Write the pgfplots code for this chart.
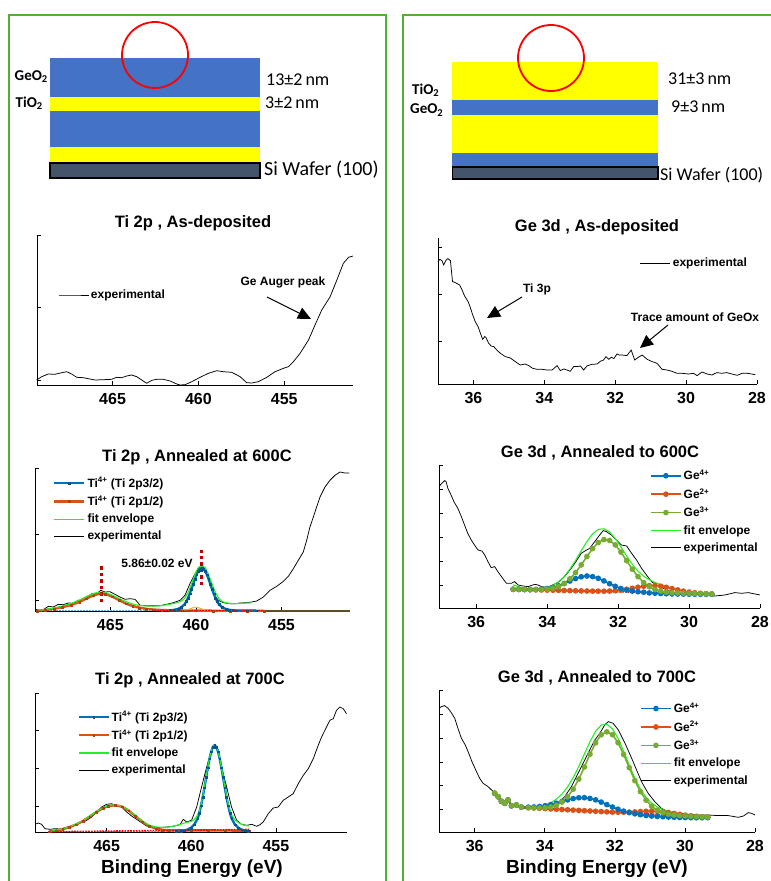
\documentclass[border=0pt]{standalone}
\usepackage{pgfplots}
\pgfplotsset{compat=1.18}
\usepackage{fontspec}
\setmainfont{Liberation Sans}
\newfontfamily\calib{Carlito}
\usetikzlibrary{arrows.meta}

\definecolor{mblue}{HTML}{0072BD}
\definecolor{morange}{HTML}{D95319}
\definecolor{myellow}{HTML}{EDB120}
\definecolor{mgreen}{HTML}{77AC30}
\definecolor{fitgreen}{HTML}{22F022}
\definecolor{framegreen}{RGB}{84,176,52}
\definecolor{layblue}{HTML}{4472C4}
\definecolor{layyellow}{HTML}{FFFF00}
\definecolor{siwafer}{HTML}{44546A}
\definecolor{markred}{HTML}{C00000}
\definecolor{basebrown}{RGB}{96,76,32}

\pgfplotsset{
  xps/.style={
    scale only axis,
    axis x line*=bottom,
    axis y line*=left,
    x dir=reverse,
    ymin=0,
    yticklabels={},
    tick align=inside,
    major tick length=4pt,
    every tick/.style={black, line width=0.7pt},
    axis line style={line width=0.8pt, black},
    xticklabel style={font=\bfseries\fontsize{16}{17}\selectfont, yshift=-4.5pt},
    /pgf/number format/assume math mode=true,
    clip=false,
    legend cell align=left,
    legend style={draw=none, fill=none, inner sep=0pt,
      font=\bfseries\fontsize{12}{13}\selectfont, row sep=3pt,
      /tikz/every even column/.append style={column sep=2pt}},
    legend image code/.code={\draw[mark repeat=2,mark phase=2,##1]
      plot coordinates {(0pt,0pt) (15pt,0pt) (30pt,0pt)};},
  },
  expline/.style={black, line width=0.75pt, mark=none},
  envline/.style={fitgreen, line width=1.1pt, mark=none},
  tiA/.style={mblue, line width=2.4pt, mark=square*, mark size=0.9pt,
    mark options={solid, line width=0.2pt, draw=mblue!75!black, fill=mblue!75!black}},
  tiB/.style={morange, line width=2.4pt, mark=square*, mark size=0.9pt,
    mark options={solid, line width=0.2pt, draw=morange!80!black, fill=morange!80!black}},
  geA/.style={mblue, line width=1.6pt, mark=*, mark size=2pt,
    mark options={solid, draw=mblue, fill=mblue}},
  geB/.style={morange, line width=1.6pt, mark=*, mark size=2pt,
    mark options={solid, draw=morange, fill=morange}},
  geC/.style={mgreen, line width=1.6pt, mark=*, mark size=2pt,
    mark options={solid, draw=mgreen, fill=mgreen}},
  bgline/.style={red, line width=1.6pt, dash pattern=on 1.6pt off 1.2pt, mark=none},
  lowline/.style={mblue!60, line width=1pt, dash pattern=on 1.5pt off 1.5pt, mark=none},
}

\begin{document}
\begin{tikzpicture}
\useasboundingbox (0pt,0pt) rectangle (771pt,-881pt);

\begin{scope}[x=1pt,y=-1pt]
  % panel frames
  \draw[framegreen, line width=2.4pt] (9,920) -- (9,15) -- (386,15) -- (386,920);
  \draw[framegreen, line width=2.4pt] (403,920) -- (403,15) -- (800,15);

  % stack: GeO2 on top
  \fill[layblue]   (50,58)  rectangle (260,97);
  \fill[layyellow] (50,97)  rectangle (260,111);
  \fill[layblue]   (50,111) rectangle (260,147);
  \fill[layyellow] (50,147) rectangle (260,162.5);
  \filldraw[fill=siwafer, draw=black, line width=1.3pt] (50,163) rectangle (260,178);
  \draw[red, line width=1.8pt] (155,55) circle (33);
  \node[anchor=east, inner sep=1pt, font=\calib\bfseries\fontsize{15}{16}\selectfont] at (49,77) {GeO\textsubscript{2}};
  \node[anchor=east, inner sep=1pt, font=\calib\bfseries\fontsize{15}{16}\selectfont] at (44,103) {TiO\textsubscript{2}};
  \node[anchor=west, inner sep=0pt, font=\calib\fontsize{18}{20}\selectfont] at (266,80) {13±2\,nm};
  \node[anchor=west, inner sep=0pt, font=\calib\fontsize{18}{20}\selectfont] at (265,103) {3±2\,nm};
  \node[anchor=west, inner sep=0pt, font=\calib\fontsize{20}{22}\selectfont] at (264,170) {Si Wafer (100)};

  % stack: TiO2 on top
  \fill[layyellow] (452,62)  rectangle (658,100);
  \fill[layblue]   (452,100) rectangle (658,115);
  \fill[layyellow] (452,115) rectangle (658,153);
  \fill[layblue]   (452,153) rectangle (658,167);
  \filldraw[fill=siwafer, draw=black, line width=1.3pt] (452.5,167) rectangle (658,179);
  \draw[red, line width=1.8pt] (551,58) circle (33);
  \node[anchor=west, inner sep=0pt, font=\calib\bfseries\fontsize{15}{16}\selectfont] at (412,90) {TiO\textsubscript{2}};
  \node[anchor=west, inner sep=0pt, font=\calib\bfseries\fontsize{15}{16}\selectfont] at (410,110) {GeO\textsubscript{2}};
  \node[anchor=west, inner sep=0pt, font=\calib\fontsize{18}{20}\selectfont] at (668,79) {31±3\,nm};
  \node[anchor=west, inner sep=0pt, font=\calib\fontsize{18}{20}\selectfont] at (671,107) {9±3\,nm};
  \node[anchor=west, inner sep=0pt, font=\calib\fontsize{18}{20}\selectfont] at (660,175) {Si Wafer (100)};

  % titles
  \begin{scope}[every node/.style={font=\bfseries\fontsize{16.5}{19}\selectfont}]
    \node at (193,223) {Ti 2p , As-deposited};
    \node at (197,457) {Ti 2p , Annealed at 600C};
    \node at (190,680) {Ti 2p , Annealed at 700C};
    \node at (597,227) {Ge 3d , As-deposited};
    \node at (600,453) {Ge 3d , Annealed to 600C};
    \node at (597,678) {Ge 3d , Annealed to 700C};
  \end{scope}
  \node[font=\bfseries\fontsize{19}{21}\selectfont] at (192,869) {Binding Energy (eV)};
  \node[font=\bfseries\fontsize{19}{21}\selectfont] at (597,869) {Binding Energy (eV)};

  % annotations
  \begin{scope}[every node/.style={font=\bfseries\fontsize{12}{14}\selectfont}]
    \node at (283,282) {Ge Auger peak};
    \node at (537,289) {Ti 3p};
    \node at (695,317) {Trace amount of GeOx};
    \node at (157,563) {5.86±0.02 eV};
  \end{scope}
  \draw[line width=1pt, -{Triangle[length=13pt,width=12pt]}] (267,297) -- (311,319);
  \draw[line width=1pt, -{Triangle[length=13pt,width=12pt]}] (522,297) -- (487,318);
  \draw[line width=1pt, -{Triangle[length=13pt,width=12pt]}] (668,325) -- (640,348);
\end{scope}

% ---------------- Ti 2p, as-deposited ----------------
\begin{axis}[xps, at={(37pt,-385pt)}, anchor=south west, width=316pt, height=150pt,
  xmin=451, xmax=469.4, ymax=150, xtick={455,460,465}, ytick={5,77.5,150},
  legend style={at={(0.0665,0.6)}, anchor=west}]
\addplot[expline] coordinates {
(469.42,5) (469.13,8.3) (468.74,11) (468.35,10.7) (467.96,12.3) (467.67,13.3)
(467.38,11) (467.09,7.7) (466.70,7.3) (466.31,6) (466.02,5) (465.54,5.3)
(465.05,5.7) (464.76,7.7) (464.47,7.3) (464.18,9) (463.89,10) (463.59,8.3)
(463.30,5) (463.01,1.7) (462.72,4.7) (462.43,5.7) (462.04,5.7) (461.65,4)
(461.26,1) (461.07,0) (460.78,0.3) (460.39,3.3) (459.90,7.7) (459.42,11.7)
(458.93,14.3) (458.55,13.3) (458.06,12.7) (457.57,8.3) (457.19,2.3) (456.90,2)
(456.51,3.3) (456.02,7.7) (455.54,13.3) (455.05,16.7) (454.76,18.3) (454.47,23.3)
(454.08,31.7) (453.59,45) (453.21,60) (452.82,75) (452.33,88.3) (451.94,105)
(451.56,121.7) (451.26,127.7) (451.0,129)};
\addlegendentry{experimental}
\end{axis}

% ---------------- Ti 2p, 600C ----------------
\begin{axis}[xps, at={(35pt,-611pt)}, anchor=south west, width=315pt, height=142.3pt,
  xmin=451, xmax=469.4, ymax=142.3, xtick={455,460,465}, ytick={10.7,76.5,142.3},
  legend style={at={(0.057,0.955)}, anchor=north west}]
\addplot[expline, forget plot] coordinates {
(469.40,2.3) (469.21,0.7) (468.91,1.3) (468.62,4.7) (468.33,4) (468.04,6.7)
(467.75,6.3) (467.45,8) (467.16,7.7) (466.87,10.7) (466.58,10.7) (466.34,14)
(466.09,17.3) (465.80,17.3) (465.56,20.7) (465.31,19) (465.02,19.3) (464.73,16.7)
(464.44,14) (464.14,11.7) (463.85,12.3) (463.56,11.7) (463.42,9) (463.27,5.7)
(462.88,5.3) (462.49,5.3) (462.10,5.3) (461.71,6.7) (461.32,8.3) (460.93,10.7)
(460.64,15.7) (460.35,27.3) (460.05,37.3) (459.80,44) (459.57,44) (459.37,37.3)
(459.18,27.3) (458.98,17.3) (458.69,10.7) (458.40,8.3) (458.01,7.3) (457.72,7.3)
(457.43,8) (457.04,8.3) (456.74,9) (456.45,10) (456.06,14) (455.67,20.7)
(455.28,24.7) (454.89,29.7) (454.60,34.7) (454.31,42.3) (454.02,50.7) (453.73,59)
(453.53,70.7) (453.34,84) (453.14,94) (452.95,104) (452.75,114) (452.46,124)
(452.17,130.7) (451.88,135.7) (451.58,139) (451.29,138) (451.04,138)};
\addplot[basebrown, line width=1.6pt, forget plot] coordinates {(456.4,0) (451,0)};
\addplot[lowline, forget plot] coordinates {(469.2,0.3) (461.5,0.3)};
\addplot[tiB, forget plot] coordinates {
(469.3,0.3) (468.8,1) (468.3,2.2) (467.8,3.8) (467.3,6) (466.8,9) (466.4,12.5)
(466.0,15.5) (465.6,17.5) (465.3,17) (464.9,14.5) (464.5,11) (464.1,7.5)
(463.7,5) (463.3,3.3) (462.9,2.2) (462.5,1.5) (462.0,1) (461.5,0.7) (461.0,0.6)
(460.5,0.5) (460.0,0.4) (459.0,0.3) (458.0,0.3) (457.0,0.3) (456.0,0.3)};
\addplot[tiA, forget plot] coordinates {
(461.5,0.6) (461.26,1.2) (461.06,2.0) (460.86,3.7) (460.66,6.8) (460.56,9.6)
(460.46,13.2) (460.36,17.4) (460.26,22) (460.16,27) (460.06,32) (459.96,36.4)
(459.86,40) (459.76,42.2) (459.66,43) (459.56,42.2) (459.46,40) (459.36,36.4)
(459.26,32) (459.16,27) (459.06,22) (458.96,17.4) (458.86,13.2) (458.76,9.6)
(458.66,6.8) (458.46,3.7) (458.26,2.0) (458.06,1.2) (457.86,0.8) (457.66,0.5)
(457.0,0.4) (456.5,0.4)};
\addplot[myellow, line width=1pt, forget plot] coordinates {
(460.6,0.5) (460.3,2.5) (460.05,4) (459.8,3) (459.5,1) (459.2,0.3)};
\addplot[envline, forget plot] coordinates {
(469.3,0.7) (468.8,1.5) (468.3,3) (467.8,5) (467.3,7.5) (466.8,11) (466.4,14.5)
(466.0,17.5) (465.6,19) (465.3,18.5) (464.9,16) (464.5,12.5) (464.1,9.5)
(463.7,7) (463.3,5.5) (462.9,5) (462.5,4.8) (462.1,5.2) (461.7,6.2) (461.3,7.5)
(460.9,9.5) (460.66,12.5) (460.46,18.5) (460.26,27) (460.06,36.5) (459.86,43.5)
(459.66,45.7) (459.46,43.5) (459.26,36.5) (459.06,27) (458.86,18.5) (458.66,12.5)
(458.46,9.5) (458.2,8) (457.8,7.3) (457.4,7.5) (457.0,8) (456.8,8)};
\addplot[bgline, forget plot] coordinates {(462.4,0.5) (456.0,0.5)};
\addplot[markred, line width=3.5pt, dash pattern=on 3.5pt off 3pt, forget plot]
  coordinates {(465.51,9) (465.51,44.7)};
\addplot[markred, line width=3.5pt, dash pattern=on 3.5pt off 3pt, forget plot]
  coordinates {(459.66,25.7) (459.66,60.7)};
\addlegendimage{tiA}
\addlegendentry{Ti\textsuperscript{4+} (Ti 2p3/2)}
\addlegendimage{tiB}
\addlegendentry{Ti\textsuperscript{4+} (Ti 2p1/2)}
\addlegendimage{envline}
\addlegendentry{fit envelope}
\addlegendimage{expline}
\addlegendentry{experimental}
\end{axis}

% ---------------- Ti 2p, 700C ----------------
\begin{axis}[xps, at={(35pt,-832pt)}, anchor=south west, width=312pt, height=139pt,
  xmin=450.8, xmax=469.23, ymax=139, xtick={455,460,465}, ytick={25.7,63.5,101.3,139},
  legend style={at={(0.135,0.885)}, anchor=north west}]
\addplot[expline, forget plot] coordinates {
(469.23,7.7) (469.03,9) (468.84,7.7) (468.64,3.3) (468.34,2.7) (468.05,3.3)
(467.75,3) (467.46,4.3) (467.16,5.7) (466.87,6.7) (466.57,9) (466.38,10)
(466.18,11.7) (465.88,15) (465.59,20) (465.29,25) (465.00,27.7) (464.70,28.3)
(464.41,26) (464.11,25) (463.82,20) (463.52,16) (463.23,12.7) (462.93,9.3)
(462.64,6) (462.24,5) (461.85,4.3) (461.45,5) (461.06,5.7) (460.67,7.3)
(460.47,12.7) (460.27,10) (459.98,11.7) (459.68,25) (459.39,45) (459.09,65)
(458.80,81.7) (458.60,86.7) (458.40,81.7) (458.21,65) (457.91,45) (457.62,25)
(457.32,11.7) (457.03,7.7) (456.73,6.7) (456.43,7.7) (456.14,5.7) (455.94,7.3)
(455.75,10) (455.45,18.3) (455.16,24) (454.86,25) (454.57,31.7) (454.27,35)
(453.98,38.3) (453.68,48.3) (453.38,56.7) (453.09,63.3) (452.79,73.3) (452.50,86.7)
(452.30,95) (452.01,105) (451.81,111.7) (451.61,113.3) (451.42,121.7) (451.22,125)
(451.02,123.3) (450.83,118.3)};
\addplot[lowline, forget plot] coordinates {(468.4,0.5) (460.9,0.5)};
\addplot[tiB, forget plot] coordinates {
(468.4,0.5) (468.0,1.5) (467.6,2.8) (467.2,4.8) (466.8,7.5) (466.4,11) (466.0,15.5)
(465.6,20) (465.2,24) (464.9,26) (464.5,26.7) (464.1,25.5) (463.7,21.5) (463.3,16)
(462.9,10.5) (462.5,6) (462.1,3.5) (461.7,2.2) (461.3,1.7) (460.8,1.6) (460.0,1.6)
(459.0,1.6) (458.0,1.5) (457.0,1.4) (456.6,1.4)};
\addplot[tiA, forget plot] coordinates {
(460.9,0.6) (460.62,1.0) (460.42,1.5) (460.22,2.4) (460.02,4.2) (459.82,7.5)
(459.62,13.6) (459.52,19.3) (459.42,26.5) (459.32,35) (459.22,44.5) (459.12,54.6)
(459.02,64.5) (458.92,73.4) (458.82,80.5) (458.72,85.1) (458.62,86.7) (458.52,85.1)
(458.42,80.5) (458.32,73.4) (458.22,64.5) (458.12,54.6) (458.02,44.5) (457.92,35)
(457.82,26.5) (457.72,19.3) (457.62,13.6) (457.42,7.5) (457.22,4.2) (457.02,2.4)
(456.82,1.5) (456.62,1.0)};
\addplot[envline, forget plot] coordinates {
(468.4,0.3) (468.0,1.8) (467.6,3.2) (467.2,5.2) (466.8,8) (466.4,11.5) (466.0,16)
(465.6,20.5) (465.2,24.5) (464.9,26.5) (464.5,27.3) (464.1,26) (463.7,22) (463.3,16.5)
(462.9,11) (462.5,7) (462.1,5) (461.7,4.7) (461.3,5) (460.9,6.5) (460.6,8)
(460.3,9.5) (460.02,10.5) (459.82,12.5) (459.62,17) (459.52,21.5) (459.42,28)
(459.32,36) (459.22,45.5) (459.12,55.5) (459.02,65) (458.92,74) (458.82,81)
(458.72,85.5) (458.62,87.3) (458.52,85.5) (458.42,81) (458.32,74) (458.22,65)
(458.12,55.5) (458.02,45.5) (457.92,36.5) (457.82,28.5) (457.72,22) (457.62,17)
(457.42,12) (457.22,9.5) (457.0,7.5) (456.8,6.5) (456.6,6)};
\addplot[bgline, forget plot] coordinates {(468.4,0.2) (456.6,2.5)};
\addlegendimage{tiA}
\addlegendentry{Ti\textsuperscript{4+} (Ti 2p3/2)}
\addlegendimage{tiB}
\addlegendentry{Ti\textsuperscript{4+} (Ti 2p1/2)}
\addlegendimage{envline}
\addlegendentry{fit envelope}
\addlegendimage{expline}
\addlegendentry{experimental}
\end{axis}

% ---------------- Ge 3d, as-deposited ----------------
\begin{axis}[xps, at={(438pt,-384.3pt)}, anchor=south west, width=319pt, height=146pt,
  xmin=28, xmax=37, ymax=146, xtick={28,30,...,36}, ytick={43.3,90,136.7},
  legend style={at={(0.633,0.831)}, anchor=west}]
\addplot[expline] coordinates {
(37.00,122.7) (36.95,125) (36.89,123.7) (36.84,119.3) (36.77,124.3) (36.72,125.7)
(36.65,123.7) (36.59,102.7) (36.51,101.7) (36.39,99.3) (36.32,94.3) (36.25,88.3)
(36.15,82.7) (36.09,77) (36.02,69.3) (35.95,62.7) (35.87,57.7) (35.81,51.7)
(35.74,45) (35.68,47.7) (35.65,47) (35.57,41) (35.50,38.3) (35.43,37.7)
(35.34,34.3) (35.24,31) (35.10,27.7) (34.96,26.3) (34.82,22.7) (34.68,19.3)
(34.54,20.3) (34.44,18.7) (34.33,16) (34.21,15) (34.07,15) (33.92,14.3)
(33.78,14.3) (33.64,18.7) (33.55,13.7) (33.45,15.3) (33.36,14.3) (33.27,13)
(33.17,17.7) (33.08,17.7) (32.98,18.3) (32.89,14.3) (32.80,18.3) (32.66,20)
(32.51,20.3) (32.42,23) (32.33,24.3) (32.26,27.7) (32.18,25) (32.11,27)
(32.04,25.7) (31.95,30.3) (31.88,29.3) (31.81,29.3) (31.67,28.7) (31.55,34.3)
(31.45,24.3) (31.36,26.7) (31.24,29.3) (31.10,25) (30.96,22.7) (30.82,21)
(30.68,15) (30.54,14.3) (30.40,13) (30.26,11) (30.12,11) (29.93,10.3)
(29.79,11) (29.69,8.7) (29.55,12.3) (29.41,10.3) (29.27,9.3) (29.13,11.7)
(28.99,11) (28.85,11.7) (28.71,10.3) (28.56,9) (28.42,11) (28.28,11) (28.05,9.7)};
\addlegendentry{experimental}
\end{axis}

% ---------------- Ge 3d, 600C ----------------
\begin{axis}[xps, at={(439pt,-608.3pt)}, anchor=south west, width=321pt, height=143.3pt,
  xmin=28, xmax=37.05, ymax=143.3, xtick={28,30,...,36}, ytick={23,47,71,95,119,143},
  legend style={at={(0.657,0.98)}, anchor=north west}]
\addplot[expline, forget plot] coordinates {
(37.05,121.7) (36.99,124.3) (36.89,127.7) (36.85,126.7) (36.80,120) (36.71,113.3)
(36.63,106.7) (36.52,100) (36.42,91.7) (36.33,83.3) (36.24,75) (36.14,68.3)
(36.05,63.3) (35.95,58.3) (35.84,57.3) (35.76,53.3) (35.67,46.7) (35.58,40.7)
(35.48,41.7) (35.39,36.7) (35.29,31.7) (35.15,25) (35.01,25) (34.92,26.7)
(34.82,23.3) (34.68,22.3) (34.54,21.7) (34.35,24) (34.26,23.3) (34.16,21.7)
(34.02,21) (33.88,22.7) (33.79,24.3) (33.65,26.7) (33.51,31.7) (33.36,38.3)
(33.22,45) (33.04,55) (32.89,58.3) (32.80,60) (32.66,66.7) (32.52,73.3)
(32.42,77.7) (32.33,76.7) (32.19,73.3) (32.05,68.3) (31.91,63.3) (31.76,62.3)
(31.62,55) (31.48,48.3) (31.34,40) (31.20,33.3) (31.06,26.7) (30.92,23.3)
(30.78,21) (30.59,17.7) (30.40,15.7) (30.21,15) (30.02,15) (29.84,14.3)
(29.55,14.3) (29.27,12.3) (28.99,13.3) (28.71,15.7) (28.52,15) (28.33,15.7)
(28.14,14.3) (28.00,13.3)};
\addplot[envline, forget plot] coordinates {
(34.96,23.5) (34.80,21.5) (34.64,20.3) (34.48,19.6) (34.32,19.3) (34.16,19.55)
(34.00,20.7) (33.84,22.9) (33.68,26.5) (33.52,31.8) (33.36,39.1) (33.20,47.9)
(33.04,57.5) (32.88,66.8) (32.72,74.4) (32.56,78.9) (32.40,79.5) (32.24,76.3)
(32.08,69.8) (31.92,61.3) (31.76,52.2) (31.60,44.0) (31.44,37.2) (31.28,32.1)
(31.12,28.5) (30.96,25.8) (30.80,23.65) (30.64,21.8) (30.48,20.05) (30.32,18.5)
(30.16,17.2) (30.00,16.2) (29.84,15.5) (29.68,15.0) (29.52,14.65) (29.36,14.4)};
\addplot[geB, forget plot] coordinates {
(34.96,19.0) (34.80,18.87) (34.64,18.73) (34.48,18.6) (34.32,18.47) (34.16,18.33)
(34.00,18.2) (33.84,18.07) (33.68,17.93) (33.52,17.8) (33.36,17.67) (33.20,17.53)
(33.04,17.4) (32.88,17.3) (32.72,17.2) (32.56,17.12) (32.40,17.14) (32.24,17.27)
(32.08,17.6) (31.92,18.2) (31.76,19.0) (31.60,20.0) (31.44,21.1) (31.28,22.1)
(31.12,22.6) (30.96,22.7) (30.80,22.1) (30.64,21.0) (30.48,19.7) (30.32,18.4)
(30.16,17.2) (30.00,16.2) (29.84,15.5) (29.68,15.0) (29.52,14.65) (29.36,14.4)};
\addplot[geA, forget plot] coordinates {
(34.96,19.0) (34.80,18.9) (34.64,18.8) (34.48,18.75) (34.32,18.8) (34.16,19.1)
(34.00,19.7) (33.84,20.8) (33.68,22.5) (33.52,24.7) (33.36,27.3) (33.20,29.7)
(33.04,31.5) (32.88,32.3) (32.72,31.7) (32.56,30.0) (32.40,27.4) (32.24,24.6)
(32.08,22.0) (31.92,19.8) (31.76,18.3) (31.60,17.2) (31.44,16.6) (31.28,16.1)
(31.12,15.4) (30.96,15.1) (30.80,14.8) (30.64,14.6) (30.48,14.4) (30.32,14.3)
(30.16,14.2) (30.00,14.1) (29.84,14.0) (29.68,14.0) (29.52,14.0) (29.36,14.0)};
\addplot[geC, forget plot] coordinates {
(34.96,19.0) (34.80,18.9) (34.64,18.8) (34.48,18.7) (34.32,18.65) (34.16,18.8)
(34.00,19.2) (33.84,20.1) (33.68,21.9) (33.52,24.9) (33.36,29.5) (33.20,35.7)
(33.04,43.4) (32.88,51.8) (32.72,59.7) (32.56,65.8) (32.40,68.7) (32.24,67.8)
(32.08,63.4) (31.92,56.2) (31.76,47.6) (31.60,39.1) (31.44,31.7) (31.28,25.7)
(31.12,21.6) (30.96,18.8) (30.80,17.1) (30.64,16.1) (30.48,15.6) (30.32,15.3)
(30.16,15.05) (30.00,14.9) (29.84,14.75) (29.68,14.6) (29.52,14.5) (29.36,14.35)};
\addplot[bgline, forget plot] coordinates {(34.96,19.0) (33.0,17.4) (31.0,15.7) (29.32,14.3)};
\addlegendimage{geA}
\addlegendentry{Ge\textsuperscript{4+}}
\addlegendimage{geB}
\addlegendentry{Ge\textsuperscript{2+}}
\addlegendimage{geC}
\addlegendentry{Ge\textsuperscript{3+}}
\addlegendimage{envline}
\addlegendentry{fit envelope}
\addlegendimage{expline}
\addlegendentry{experimental}
\end{axis}

% ---------------- Ge 3d, 700C ----------------
\begin{axis}[xps, at={(439pt,-832.3pt)}, anchor=south west, width=316pt, height=142.3pt,
  xmin=28, xmax=37.02, ymax=142.3, xtick={28,30,...,36}, ytick={23.3,46.8,70.3,94,118.2,142.3},
  legend style={at={(0.636,0.925)}, anchor=north west}]
\addplot[expline, forget plot] coordinates {
(37.02,124) (36.95,125.7) (36.86,126.7) (36.76,124) (36.67,119.7) (36.57,114)
(36.48,104) (36.38,94) (36.27,87.3) (36.17,79) (36.08,70.7) (35.95,60.7)
(35.86,54) (35.76,49) (35.62,45.7) (35.52,42.3) (35.43,39.7) (35.33,35.7)
(35.24,30.7) (35.14,29) (35.05,33) (34.95,27.3) (34.86,26.3) (34.71,25.7)
(34.57,24) (34.38,24) (34.19,24.7) (34.00,25.7) (33.81,26.7) (33.62,29)
(33.43,35.7) (33.24,45.7) (33.05,59) (32.86,72.3) (32.67,85.7) (32.57,92.3)
(32.43,99) (32.29,107.3) (32.19,110.7) (32.05,109) (31.90,102.3) (31.71,89)
(31.52,74) (31.38,62.3) (31.24,50.7) (31.05,39) (30.86,30.7) (30.67,24)
(30.48,20.7) (30.19,19) (29.90,18) (29.62,17.3) (29.33,17.3) (29.05,16.7)
(28.76,16.7) (28.48,15) (28.33,16.3) (28.19,19.7) (28.10,19) (28.00,17.3)};
\addplot[envline, forget plot] coordinates {
(35.43,39) (35.33,35.5) (35.24,31) (35.14,29) (35.05,32.3) (34.95,26.5)
(34.81,27.3) (34.67,25.2) (34.47,25.21) (34.31,25.5) (34.15,26.16) (33.99,27.45)
(33.83,29.65) (33.67,33.08) (33.51,38.2) (33.35,45.31) (33.19,54.62) (33.03,65.86)
(32.87,78.32) (32.71,90.63) (32.55,100.93) (32.39,107.21) (32.23,108.14) (32.07,103.44)
(31.91,93.99) (31.75,81.07) (31.59,67.25) (31.43,54.18) (31.27,43.25) (31.11,35.08)
(30.95,29.26) (30.79,25.28) (30.63,22.66) (30.47,20.75) (30.31,19.31) (30.15,18.14)
(29.99,17.23) (29.83,16.49) (29.67,15.95) (29.51,15.52) (29.35,15.16)};
\addplot[geB, forget plot] coordinates {
(35.43,39) (35.33,35.5) (35.24,31) (35.14,29) (35.05,32.3) (34.95,26.5)
(34.81,27.3) (34.67,25.2) (34.47,24.58) (34.31,24.29) (34.15,23.99) (33.99,23.70)
(33.83,23.40) (33.67,23.10) (33.51,22.81) (33.35,22.51) (33.19,22.22) (33.03,21.92)
(32.87,21.62) (32.71,21.33) (32.55,21.03) (32.39,20.74) (32.23,20.44) (32.07,20.14)
(31.91,20.12) (31.75,20.08) (31.59,20.18) (31.43,20.41) (31.27,20.72) (31.11,21.01)
(30.95,21.13) (30.79,20.98) (30.63,20.5) (30.47,19.75) (30.31,18.87) (30.15,17.96)
(29.99,17.16) (29.83,16.49) (29.67,15.95) (29.51,15.52) (29.35,15.16)};
\addplot[geA, forget plot] coordinates {
(35.43,39) (35.33,35.5) (35.24,31) (35.14,29) (35.05,32.3) (34.95,26.5)
(34.81,27.3) (34.67,25.2) (34.47,25.15) (34.31,25.34) (34.15,25.77) (33.99,26.54)
(33.83,27.67) (33.67,29.1) (33.51,30.77) (33.35,32.41) (33.19,33.72) (33.03,34.56)
(32.87,34.62) (32.71,33.83) (32.55,32.43) (32.39,30.2) (32.23,27.7) (32.07,25.3)
(31.91,23.1) (31.75,21.2) (31.59,19.7) (31.43,18.5) (31.27,17.6) (31.11,16.8)
(30.95,16.3) (30.79,15.9) (30.63,15.6) (30.47,15.3) (30.31,15.0) (30.15,14.8)
(29.99,14.7) (29.83,14.6) (29.67,14.6) (29.51,14.6) (29.35,14.6)};
\addplot[geC, forget plot] coordinates {
(35.43,39) (35.33,35.5) (35.24,31) (35.14,29) (35.05,32.3) (34.95,26.5)
(34.81,27.3) (34.67,25.2) (34.47,24.64) (34.31,24.45) (34.15,24.38) (33.99,24.61)
(33.83,25.38) (33.67,27.08) (33.51,30.24) (33.35,35.41) (33.19,43.12) (33.03,53.22)
(32.87,65.32) (32.71,78.13) (32.55,89.53) (32.39,97.54) (32.23,100.44) (32.07,97.64)
(31.91,89.65) (31.75,77.85) (31.59,64.66) (31.43,51.76) (31.27,40.66) (31.11,32.17)
(30.95,26.07) (30.79,22.08) (30.63,19.64) (30.47,18.18) (30.31,17.33) (30.15,16.77)
(29.99,16.37) (29.83,16.0) (29.67,15.7) (29.51,15.41) (29.35,15.11)};
\addplot[bgline, forget plot] coordinates {
(35.43,39) (35.33,35.5) (35.24,31) (35.14,29) (35.05,32.3) (34.95,26.5)
(34.81,27.3) (34.67,25.2) (34.47,24.58) (31.0,18.2) (29.35,15.11)};
\addlegendimage{geA}
\addlegendentry{Ge\textsuperscript{4+}}
\addlegendimage{geB}
\addlegendentry{Ge\textsuperscript{2+}}
\addlegendimage{geC}
\addlegendentry{Ge\textsuperscript{3+}}
\addlegendimage{envline}
\addlegendentry{fit envelope}
\addlegendimage{expline}
\addlegendentry{experimental}
\end{axis}
\end{tikzpicture}
\end{document}
